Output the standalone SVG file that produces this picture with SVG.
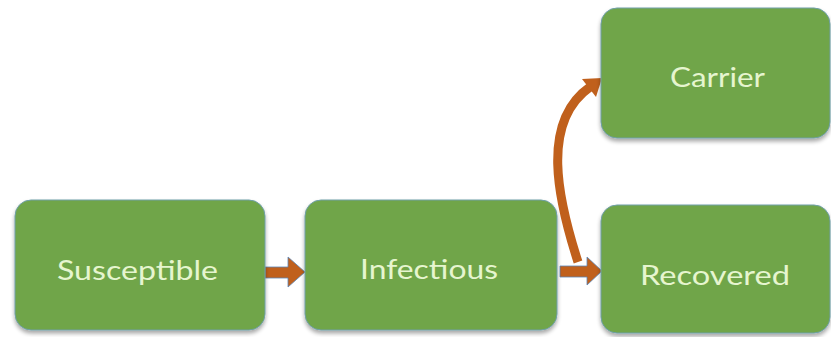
<svg xmlns="http://www.w3.org/2000/svg" width="831" height="337" viewBox="0 0 831 337">
  <defs>
    <filter id="shadow" x="-10%" y="-10%" width="120%" height="130%">
      <feGaussianBlur in="SourceAlpha" stdDeviation="2"/>
      <feOffset dx="0" dy="2.5" result="b"/>
      <feComponentTransfer><feFuncA type="linear" slope="0.35"/></feComponentTransfer>
      <feMerge><feMergeNode/><feMergeNode in="SourceGraphic"/></feMerge>
    </filter>
  </defs>
  <style>
    .box { fill: #70a548; stroke: #6e9fa8; stroke-width: 1; filter: url(#shadow); }
    .label { font-family: Lato, "Open Sans", sans-serif; font-weight: 400; font-size: 26px; fill: #e6f5cf; text-anchor: middle; }
    .arrow { fill: #c0601c; stroke: #5a86b8; stroke-width: 0.8; stroke-linejoin: miter; }
    .curve { fill: none; stroke: #c0601c; stroke-width: 9; }
  </style>
  <rect width="831" height="337" fill="#ffffff"/>

  <g id="connectors">
    <!-- Susceptible to Infectious -->
    <polygon class="arrow" points="265,267 288,267 288,257 305,272 288,287 288,278 265,278"/>
    <!-- Infectious to Recovered -->
    <polygon class="arrow" points="560,266 587,266 587,257 602,271 587,285 587,277 560,277"/>
    <!-- Infectious to Carrier (curved) -->
    <path class="curve" d="M578,262 C558,200 540,122 590,87"/>
    <polygon fill="#c0601c" points="602,78 596,97 582,79"/>
  </g>

  <g id="susceptible">
    <rect class="box" x="15" y="200" width="250" height="130" rx="16"/>
    <text class="label" x="137.5" y="280" textLength="161" lengthAdjust="spacingAndGlyphs">Susceptible</text>
  </g>

  <g id="infectious">
    <rect class="box" x="305" y="200" width="252" height="130" rx="16"/>
    <text class="label" x="429" y="279" textLength="138" lengthAdjust="spacingAndGlyphs">Infectious</text>
  </g>

  <g id="carrier">
    <rect class="box" x="601" y="8" width="229" height="130" rx="16"/>
    <text class="label" x="717.5" y="87" textLength="95" lengthAdjust="spacingAndGlyphs">Carrier</text>
  </g>

  <g id="recovered">
    <rect class="box" x="601" y="205" width="229" height="128" rx="16"/>
    <text class="label" x="715" y="285" textLength="150" lengthAdjust="spacingAndGlyphs">Recovered</text>
  </g>
</svg>
